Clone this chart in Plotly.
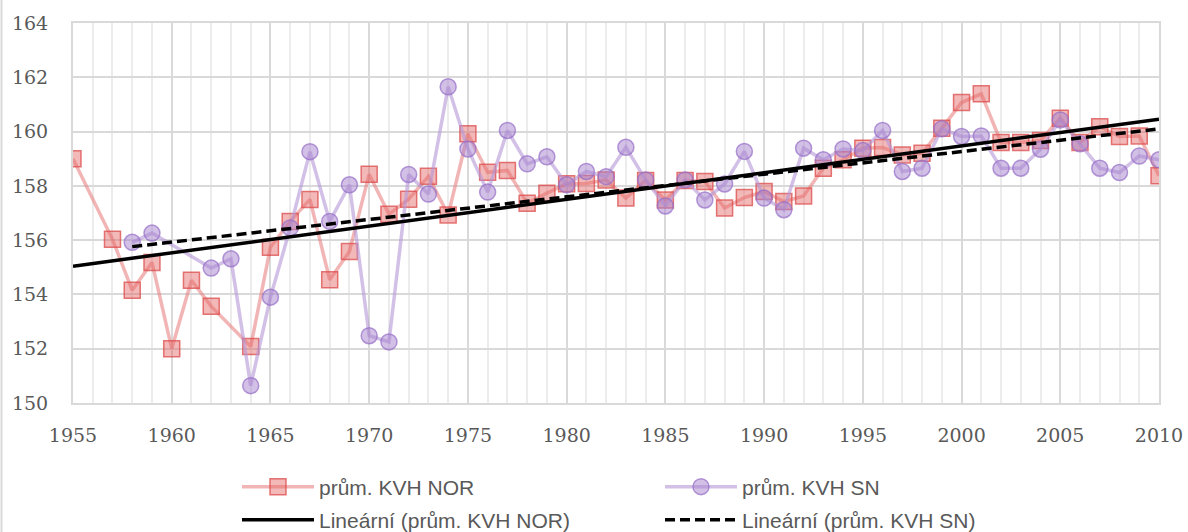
import numpy as np
import plotly.graph_objects as go

years = list(range(1955, 2011))

nor = [159.0, None, 156.03, 154.15, 155.18, 152.0, 154.52, 153.56, None, 152.08,
       155.74, 156.69, 157.5, 154.54, 155.58, 158.43, 156.95, 157.51, 158.35, 156.93,
       159.92, 158.5, 158.57, 157.36, 157.73, 158.08, 158.09, 158.22, 157.55, 158.2,
       157.48, 158.2, 158.16, 157.18, 157.57, 157.79, 157.42, 157.63, 158.65, 158.96,
       159.39, 159.41, 159.14, 159.2, 160.12, 161.07, 161.39, 159.6, 159.6, 159.67,
       160.49, 159.6, 160.18, 159.82, 159.84, 158.37]

sn = [None, None, None, 155.92, 156.26, None, None, 154.97, 155.31, 150.64,
      153.9, 156.45, 159.26, 156.69, 158.04, 152.48, 152.25, 158.42, 157.7, 161.65,
      159.36, 157.77, 160.04, 158.81, 159.07, 158.04, 158.53, 158.34, 159.42, 158.22,
      157.26, 158.22, 157.48, 158.07, 159.27, 157.55, 157.12, 159.39, 158.96, 159.36,
      159.3, 160.04, 158.53, 158.65, 160.1, 159.82, 159.84, 158.65, 158.65, 159.35,
      160.43, 159.55, 158.65, 158.49, 159.1, 158.96]

names = ["prům. KVH NOR", "prům. KVH SN",
         "Lineární (prům. KVH NOR)", "Lineární (prům. KVH SN)"]

x_ticks = list(range(1955, 2011, 5))
y_ticks = list(range(150, 165, 2))


def trend(xs, ys):
    pts = [(x, y) for x, y in zip(xs, ys) if y is not None]
    px = np.array([p[0] for p in pts], dtype=float)
    py = np.array([p[1] for p in pts], dtype=float)
    k, q = np.polyfit(px, py, 1)
    tx = [px.min(), px.max()]
    return tx, [k * t + q for t in tx]


TEXT = "#595959"
fig = go.Figure()

fig.add_trace(go.Scatter(
    x=years, y=nor, name=names[0], mode="lines+markers", connectgaps=True,
    line=dict(color="rgba(232,120,120,0.55)", width=3.5),
    marker=dict(symbol="square", size=16, color="rgba(228,100,100,0.45)",
                line=dict(color="rgba(220,75,75,0.75)", width=1.5)),
    legend="legend"))

fig.add_trace(go.Scatter(
    x=years, y=sn, name=names[1], mode="lines+markers", connectgaps=True,
    line=dict(color="rgba(180,150,215,0.6)", width=3.5),
    marker=dict(symbol="circle", size=16, color="rgba(165,130,205,0.5)",
                line=dict(color="rgba(150,110,200,0.7)", width=1.5)),
    legend="legend"))

tx, ty = trend(years, nor)
fig.add_trace(go.Scatter(x=tx, y=ty, name=names[2], mode="lines",
                         line=dict(color="black", width=3.5), legend="legend2"))
tx, ty = trend(years, sn)
fig.add_trace(go.Scatter(x=tx, y=ty, name=names[3], mode="lines",
                         line=dict(color="black", width=3.5, dash="10px,5px"),
                         legend="legend2"))

PW = 1086.0
PH = 380.0
legend_common = dict(
    orientation="h", xanchor="left", yanchor="middle",
    x=(237 - 73) / PW,
    font=dict(family="Liberation Sans, Arial, sans-serif", size=21, color=TEXT),
    entrywidth=336, entrywidthmode="pixels", itemwidth=72,
    bgcolor="rgba(0,0,0,0)",
)

fig.update_layout(
    width=1188, height=532,
    margin=dict(l=73, r=29, t=23, b=129, autoexpand=False),
    paper_bgcolor="white", plot_bgcolor="white",
    showlegend=True,
    legend=dict(legend_common, y=(403 - 487) / PH),
    legend2=dict(legend_common, y=(403 - 520) / PH),
    xaxis=dict(
        range=[1955, 2010], tickmode="array", tickvals=x_ticks,
        ticktext=[str(v) for v in x_ticks],
        showgrid=True, gridcolor="#d9d9d9", gridwidth=2,
        minor=dict(dtick=1, tick0=1955, showgrid=True, gridcolor="#ececec", gridwidth=1.5),
        showline=True, mirror=True, linecolor="#d9d9d9", linewidth=2,
        zeroline=False, ticks="", ticklabelstandoff=14, automargin=False,
        tickfont=dict(family="DejaVu Serif, serif", size=19, color=TEXT),
    ),
    yaxis=dict(
        range=[150, 164], tickmode="array", tickvals=y_ticks,
        ticktext=[str(v) for v in y_ticks],
        showgrid=True, gridcolor="#d9d9d9", gridwidth=2,
        showline=True, mirror=True, linecolor="#d9d9d9", linewidth=2,
        zeroline=False, ticks="", ticklabelstandoff=19, automargin=False,
        tickfont=dict(family="DejaVu Serif, serif", size=19, color=TEXT),
    ),
    shapes=[dict(type="line", xref="paper", yref="paper",
                 x0=(1.5 - 73) / PW, x1=(1.5 - 73) / PW,
                 y0=(403 - 532) / PH, y1=403 / PH,
                 line=dict(color="#d9d9d9", width=2))],
)

fig.write_html(
    "out.html",
    config={"displayModeBar": False},
    post_script="document.body.style.margin='0';document.body.style.overflow='hidden';",
)
